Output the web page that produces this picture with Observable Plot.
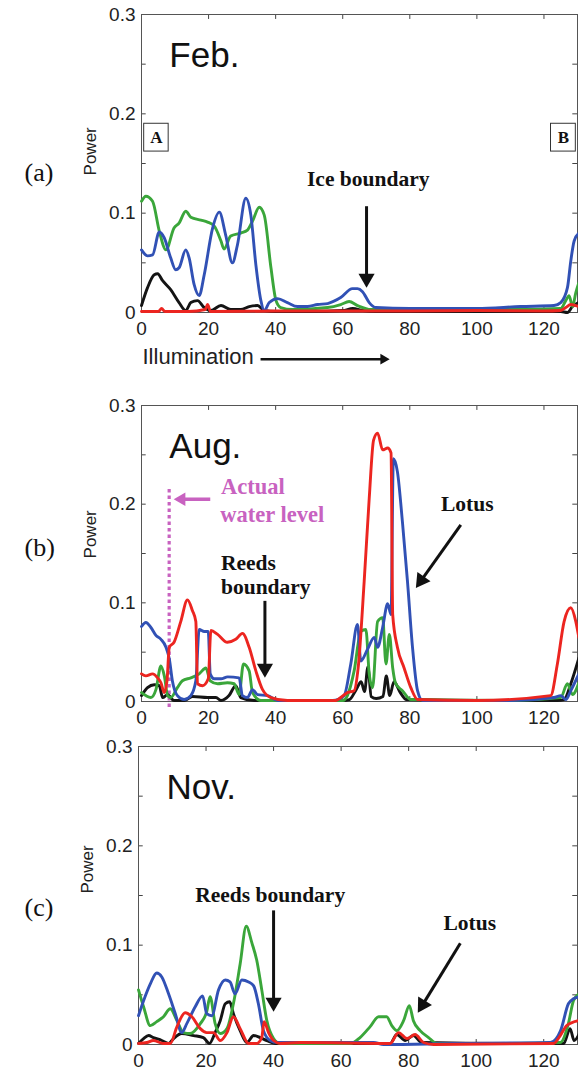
<!DOCTYPE html>
<html><head><meta charset="utf-8">
<script src="https://cdn.jsdelivr.net/npm/d3@7"></script>
<script src="https://cdn.jsdelivr.net/npm/@observablehq/plot@0.6"></script>
<style>
html,body{margin:0;padding:0;background:#fff;}
#wrap{position:relative;width:578px;height:1072px;overflow:hidden;background:#fff;}
.panel{position:absolute;left:0;}
</style></head><body><div id="wrap"></div>
<script>
// ---------- data (x = illumination, y = power) ----------
const xTicks = [0, 20, 40, 60, 80, 100, 120];
const yTicks = [0, 0.1, 0.2, 0.3];
const yMinorTicks = [0, 0.05, 0.1, 0.15, 0.2, 0.25, 0.3];

const febBlack = [[0,0.007],[1.8,0.025],[3.8,0.038],[4.8,0.039],[6.3,0.032],[8.7,0.023],[11.2,0.01],[13.2,0.002],[14.7,0.01],[16.7,0.012],[18.7,0.005],[20.7,0.002],[23.7,0.007],[26.6,0.003],[29.6,0.003],[32.1,0.006],[34.6,0.007],[36.6,0.002],[40,0.001],[50,0.001],[60,0.002],[63,0.004],[66,0.002],[70,0.001],[100,0.001],[125,0.001],[127,0],[128.5,0.006],[130.4,0.01]];
const febGreen = [[0,0.112],[1.3,0.117],[3.3,0.112],[5.3,0.082],[7.3,0.063],[9.7,0.085],[11.2,0.09],[13.2,0.102],[14.7,0.096],[17.7,0.093],[19.7,0.091],[21.7,0.087],[23.7,0.072],[24.6,0.064],[26.6,0.077],[29.6,0.08],[31.6,0.083],[33.1,0.092],[35.1,0.106],[36.6,0.098],[38.6,0.045],[40.1,0.012],[41.5,0.005],[45,0.003],[55.5,0.005],[59.4,0.008],[61.9,0.011],[64.4,0.007],[68.4,0.003],[80,0.003],[100,0.003],[110,0.003],[125,0.004],[126.5,0.012],[127.5,0.017],[128.5,0.006],[129.5,0.02],[130.4,0.03]];
const febBlue = [[0,0.063],[1.8,0.057],[3.3,0.058],[5.3,0.081],[6.8,0.075],[8.7,0.055],[10.2,0.043],[11.2,0.045],[13.2,0.063],[14.2,0.055],[15.7,0.028],[17.2,0.017],[18.7,0.038],[21.2,0.085],[23.2,0.101],[25.1,0.078],[27.1,0.05],[28.6,0.068],[31.1,0.115],[32.6,0.098],[34.1,0.048],[35.6,0.012],[36.6,0.002],[38.1,0.01],[40.6,0.014],[43.5,0.01],[46.5,0.006],[49.5,0.006],[52.5,0.008],[55.5,0.009],[59.4,0.015],[62.9,0.024],[64.4,0.024],[65.9,0.021],[67.9,0.01],[69.9,0.005],[80,0.004],[100,0.004],[113,0.006],[123,0.007],[125,0.01],[127,0.025],[128,0.052],[129,0.072],[130.4,0.08]];
const febRed = [[0,0.001],[5,0.001],[6,0.004],[7,0.001],[14,0.001],[19,0.003],[19.7,0.008],[20.6,0.001],[40,0.0015],[80,0.0015],[100,0.002],[120,0.0015],[125,0.002],[126.5,0.005],[128,0.008],[130.4,0.006]];

const augBlack = [[0,0.006],[1.8,0.014],[3.8,0.017],[5.3,0.016],[6.3,0.004],[7.8,0.007],[9.7,0.001],[12.7,0.001],[15.2,0.005],[19.7,0.004],[22.2,0.004],[23.7,0.001],[26.1,0.006],[28.1,0.016],[29.6,0.004],[33.6,0.001],[60,0.001],[62,0.002],[64,0.012],[65.5,0.02],[66.5,0.01],[67.5,0.035],[68.5,0.005],[70,0.003],[72,0.005],[73,0.026],[74,0.006],[75.3,0.02],[77,0.01],[79,0.002],[100,0.001],[124,0.001],[126,0.002],[128,0.018],[130.4,0.044]];
const augGreen = [[0,0.009],[1.3,0.006],[2.8,0.004],[4.3,0.012],[5.8,0.036],[6.8,0.026],[7.8,0.006],[8.7,0.004],[10.7,0.014],[12.2,0.021],[14.7,0.024],[17.2,0.028],[19.2,0.034],[20.5,0.021],[22.7,0.018],[25.6,0.019],[27.6,0.018],[29.1,0.007],[30.4,0.038],[32.1,0.031],[33.1,0.009],[35.6,0.001],[60,0.001],[61.4,0.006],[63.4,0.031],[65.4,0.071],[66.9,0.073],[67.9,0.028],[68.9,0.014],[70.4,0.081],[71.9,0.085],[72.9,0.038],[73.9,0.068],[74.9,0.034],[75.8,0.018],[77.8,0.011],[80.3,0.002],[110,0.001],[125,0.004],[127,0.018],[128.5,0.007],[130.4,0.019]];
const augBlue = [[0,0.076],[1.3,0.08],[2.8,0.075],[4.3,0.067],[5.8,0.063],[7.3,0.055],[8.3,0.043],[9.2,0.021],[10.7,0.006],[12.7,0.002],[14.7,0.006],[16.2,0.021],[17.2,0.073],[18.7,0.071],[19.9,0.071],[20.5,0.028],[21.7,0.023],[23.7,0.023],[25.7,0.025],[29.1,0.024],[30.1,0.006],[31.6,0.004],[33.1,0.012],[34.6,0.007],[37.6,0.006],[40.6,0.001],[57,0.001],[60.4,0.006],[62.4,0.038],[64.4,0.078],[65.4,0.041],[67.4,0.053],[69.4,0.065],[70.4,0.055],[71.9,0.075],[73.4,0.099],[74.4,0.088],[75.1,0.246],[76.3,0.233],[77.8,0.182],[79.3,0.122],[80.8,0.055],[82.3,0.011],[83.8,0.001],[110,0.001],[123,0.004],[125,0.006],[126.5,0.002],[128,0.011],[130.4,0.028]];
const augRed = [[0,0.028],[1.3,0.026],[3.3,0.028],[4.8,0.024],[5.8,0.019],[6.8,0.009],[7.6,0.021],[8.3,0.055],[9.7,0.06],[11.7,0.081],[13.7,0.103],[15.2,0.092],[16.2,0.081],[16.7,0.018],[18.2,0.016],[19.9,0.023],[20.7,0.072],[22.7,0.068],[25.6,0.06],[28.1,0.063],[30.1,0.069],[32.1,0.055],[34.1,0.031],[36.1,0.012],[38.6,0.004],[43.5,0.001],[58,0.001],[59.4,0.004],[61.4,0.009],[63.4,0.011],[64.6,0.034],[66.4,0.122],[67.9,0.206],[69.2,0.265],[70.4,0.272],[71.9,0.255],[73.4,0.257],[74.4,0.252],[74.9,0.088],[76.3,0.055],[78.3,0.034],[80.3,0.014],[82.3,0.002],[100,0.001],[122,0.006],[124,0.038],[126,0.081],[128,0.095],[129.5,0.081],[130.4,0.065]];

const novBlack = [[0,0.001],[1.5,0.006],[3,0.009],[4.4,0.007],[6.9,0.004],[8.9,0.001],[10.4,0.006],[12.8,0.011],[16.3,0.009],[19.2,0.007],[21,0.001],[22.7,0.012],[24.2,0.024],[25.7,0.041],[27,0.043],[28.1,0.031],[30.1,0.014],[32.1,0.002],[34.1,0.009],[36,0.007],[38,0.004],[41,0.001],[74.5,0.001],[76.5,0.01],[79,0.004],[81.4,0.009],[83.9,0.002],[110,0.001],[125.9,0.001],[127.8,0.016],[129,0.004],[130.4,0.01]];
const novGreen = [[0,0.055],[1.5,0.038],[3.5,0.019],[5.4,0.023],[7.4,0.028],[9.4,0.036],[11.4,0.024],[13.3,0.012],[15.3,0.011],[18.3,0.021],[20.2,0.033],[21.2,0.048],[22.7,0.021],[24.2,0.011],[26.2,0.016],[28.1,0.041],[30.1,0.081],[31.9,0.119],[33.6,0.102],[35,0.085],[36.5,0.055],[38,0.024],[40,0.006],[42,0.001],[62.7,0.001],[65.6,0.007],[68.6,0.018],[71.1,0.028],[73.5,0.028],[75,0.019],[76.5,0.014],[78.5,0.024],[80.2,0.039],[81.4,0.024],[83.4,0.014],[85.9,0.007],[88.4,0.001],[110,0.001],[124.9,0.002],[127.3,0.021],[128.8,0.044],[130.4,0.051]];
const novBlue = [[0,0.029],[1.5,0.044],[3.5,0.061],[5.4,0.072],[6.9,0.068],[8.9,0.051],[10.9,0.031],[12.8,0.012],[14.3,0.021],[16.8,0.038],[19,0.049],[20.2,0.031],[21.7,0.029],[23.7,0.055],[25.7,0.065],[27.1,0.063],[28.6,0.051],[30.6,0.065],[32.6,0.063],[34.1,0.059],[35.5,0.041],[37,0.014],[39,0.004],[41,0.002],[69.6,0.002],[72.6,0.0],[93.3,0.001],[122,0.002],[125,0.014],[127.3,0.041],[128.8,0.046],[130.4,0.048]];
const novRed = [[0,0.001],[2.5,0.002],[4.4,0.004],[7.4,0.001],[9.4,0.001],[11.4,0.018],[13.8,0.032],[15.8,0.028],[18.3,0.016],[20.2,0.012],[22.2,0.012],[24.2,0.004],[26.2,0.012],[28.1,0.028],[30.1,0.016],[32.6,0.001],[35,0.001],[36.5,0.007],[37.2,0.023],[38.5,0.012],[40,0.004],[42,0.001],[47.9,0.002],[74.5,0.001],[77,0.012],[79.5,0.006],[81.9,0.01],[84.4,0.002],[87.4,0.0],[122.9,0.001],[124.9,0.009],[126.8,0.019],[130.4,0.024]];

const panelLabels = ["(a)", "(b)", "(c)"];
const monthLabels = ["Feb.", "Aug.", "Nov."];

// ---------- styling ----------
const COLORS = {black: "#141414", green: "#3aa63a", blue: "#3151b5", red: "#ec2520"};
const MAGENTA = "#c862c0";
const SANS = "'Liberation Sans', Arial, Helvetica, sans-serif";
const SERIF = "'Liberation Serif', 'Times New Roman', serif";
const W = 578;

function arrowMarks(arrs, kx, ky) {
  const marks = [];
  for (const a of arrs) {
    const vx = (a.x2 - a.x1) * kx, vy = -(a.y2 - a.y1) * ky;
    const len = Math.hypot(vx, vy), ux = vx / len, uy = vy / len;
    const h = Math.sqrt(Math.PI * a.r * a.r / (3 * Math.sqrt(3)));
    const back = 3 * h - 1;
    const shaft = {x1: a.x1, y1: a.y1, x2: a.x2 - ux * back / kx, y2: a.y2 + uy * back / ky};
    marks.push(Plot.link([shaft], {x1: "x1", y1: "y1", x2: "x2", y2: "y2", stroke: a.color || "#111", strokeWidth: a.w}));
    const angle = Math.atan2(ux, -uy) * 180 / Math.PI;
    marks.push(Plot.dot([a], {x: "x2", y: "y2", symbol: "triangle", r: a.r, rotate: angle,
      fill: a.color || "#111", dx: -ux * 2 * h, dy: -uy * 2 * h}));
  }
  return marks;
}

function makePanel(cfg) {
  const ml = cfg.ml, mr = 1;
  const kx = (W - ml - mr) / 130;
  const ky = (cfg.height - cfg.mt - cfg.mb) / 0.3;
  const order = ["black", "green", "blue", "red"];
  const marks = [
    ...(cfg.extraBack || []),
    // inward MATLAB-style ticks
    Plot.ruleY(yMinorTicks, {y: d => d, x1: () => 0, x2: () => 1.4, stroke: "#444", strokeWidth: 1}),
    Plot.ruleY(yMinorTicks, {y: d => d, x1: () => 128.6, x2: () => 130, stroke: "#444", strokeWidth: 1}),
    Plot.ruleX(xTicks, {x: d => d, y1: () => 0, y2: () => 0.005, stroke: "#444", strokeWidth: 1}),
    Plot.ruleX(xTicks, {x: d => d, y1: () => 0.295, y2: () => 0.3, stroke: "#444", strokeWidth: 1}),
    Plot.frame({stroke: "#555", strokeWidth: 1}),
    ...order.map(s => Plot.line(cfg.data[s].map(([x, y]) => ({x, y})),
      {x: "x", y: "y", stroke: COLORS[s], strokeWidth: 2.9, curve: "monotone-x"})),
    Plot.axisY({ticks: yTicks, tickSize: 0, tickPadding: 6, label: null, fontSize: 19,
      tickFormat: d => d === 0 ? "0" : d.toFixed(1), fill: "#222"}),
    Plot.axisX({ticks: xTicks, tickSize: 0, tickPadding: 9, label: null, fontSize: 19, fill: "#222"}),
    Plot.text(["Power"], {frameAnchor: "left", dx: -51, y: () => cfg.powerY, rotate: -90,
      fontSize: 17, fill: "#222", fontFamily: SANS}),
    Plot.text([cfg.panel], {frameAnchor: "left", dx: cfg.ml === 141 ? -117 : -114, y: () => cfg.panelY,
      fontSize: 26, fill: "#111", fontFamily: SERIF}),
    Plot.text([cfg.month], {x: () => 8.3, y: () => 0.258, textAnchor: "start", lineAnchor: "middle",
      fontSize: 35, fill: "#111", fontFamily: SANS}),
    ...(cfg.notes || []).map(n => Plot.text([n], {x: "x", y: "y", text: "t", textAnchor: n.anchor || "start",
      lineAnchor: "middle", fontSize: n.size || 21.5, fontWeight: n.weight || "bold",
      fill: n.color || "#111", fontFamily: n.font || SERIF})),
    ...arrowMarks(cfg.arrows || [], kx, ky),
    ...(cfg.extraFront || [])
  ];
  const svg = Plot.plot({
    width: W, height: cfg.height,
    marginLeft: ml, marginRight: mr, marginTop: cfg.mt, marginBottom: cfg.mb,
    x: {domain: [0, 130]},
    y: {domain: [0, 0.3]},
    style: {fontFamily: SANS, fontSize: "19px", background: "transparent", overflow: "visible"},
    marks
  });
  const div = document.createElement("div");
  div.className = "panel";
  div.style.top = cfg.top + "px";
  div.appendChild(svg);
  document.getElementById("wrap").appendChild(div);
}

// Panel (a)
makePanel({
  top: 0, height: 390, mt: 14, mb: 78, ml: 141,
  panel: panelLabels[0], month: monthLabels[0], panelY: 0.141, powerY: 0.138,
  data: {black: febBlack, green: febGreen, blue: febBlue, red: febRed},
  notes: [
    {x: 67.6, y: 0.1345, t: "Ice boundary", anchor: "middle"},
    {x: 4.45, y: 0.176, t: "A", anchor: "middle", size: 17},
    {x: 125.8, y: 0.176, t: "B", anchor: "middle", size: 17},
    {x: 0.3, y: -0.0445, t: "Illumination", weight: "normal", size: 22, font: SANS, color: "#222"}
  ],
  arrows: [
    {x1: 67.1, y1: 0.107, x2: 67.1, y2: 0.025, r: 6, w: 3},
    {x1: 35.5, y1: -0.047, x2: 74, y2: -0.047, r: 4, w: 2.5}
  ],
  extraBack: [
    Plot.rect([{x1: 0.8, x2: 8.1, y1: 0.162, y2: 0.19}, {x1: 122.1, x2: 129.5, y1: 0.162, y2: 0.19}],
      {x1: "x1", x2: "x2", y1: "y1", y2: "y2", fill: "white", stroke: "#333", strokeWidth: 1})
  ]
});

// Panel (b)
makePanel({
  top: 390, height: 340, mt: 15, mb: 29, ml: 141,
  panel: panelLabels[1], month: monthLabels[1], panelY: 0.156, powerY: 0.145,
  data: {black: augBlack, green: augGreen, blue: augBlue, red: augRed},
  notes: [
    {x: 23.7, y: 0.218, t: "Actual", color: MAGENTA, size: 22.5},
    {x: 23.5, y: 0.189, t: "water level", color: MAGENTA, size: 22.5},
    {x: 23.7, y: 0.140, t: "Reeds"},
    {x: 23.7, y: 0.1155, t: "boundary"},
    {x: 89.3, y: 0.2, t: "Lotus"}
  ],
  arrows: [
    {x1: 36.8, y1: 0.102, x2: 36.8, y2: 0.024, r: 6, w: 3},
    {x1: 95.2, y1: 0.179, x2: 81.8, y2: 0.115, r: 6, w: 3},
    {x1: 20.5, y1: 0.205, x2: 9.6, y2: 0.205, r: 5, w: 3.5, color: MAGENTA}
  ],
  extraBack: [
    Plot.ruleX([8.25], {x: d => d, y1: () => -0.006, y2: () => 0.217, stroke: MAGENTA, strokeWidth: 3.2, strokeDasharray: "3.5,3"})
  ]
});

// Panel (c)
makePanel({
  top: 730, height: 342, mt: 16, mb: 28, ml: 138,
  panel: panelLabels[2], month: monthLabels[2], panelY: 0.138, powerY: 0.152,
  data: {black: novBlack, green: novGreen, blue: novBlue, red: novRed},
  notes: [
    {x: 39, y: 0.1505, t: "Reeds boundary", anchor: "middle"},
    {x: 90.3, y: 0.122, t: "Lotus"}
  ],
  arrows: [
    {x1: 40, y1: 0.135, x2: 40, y2: 0.033, r: 6, w: 3},
    {x1: 95.3, y1: 0.102, x2: 82.7, y2: 0.032, r: 6, w: 3}
  ]
});
</script></body></html>
